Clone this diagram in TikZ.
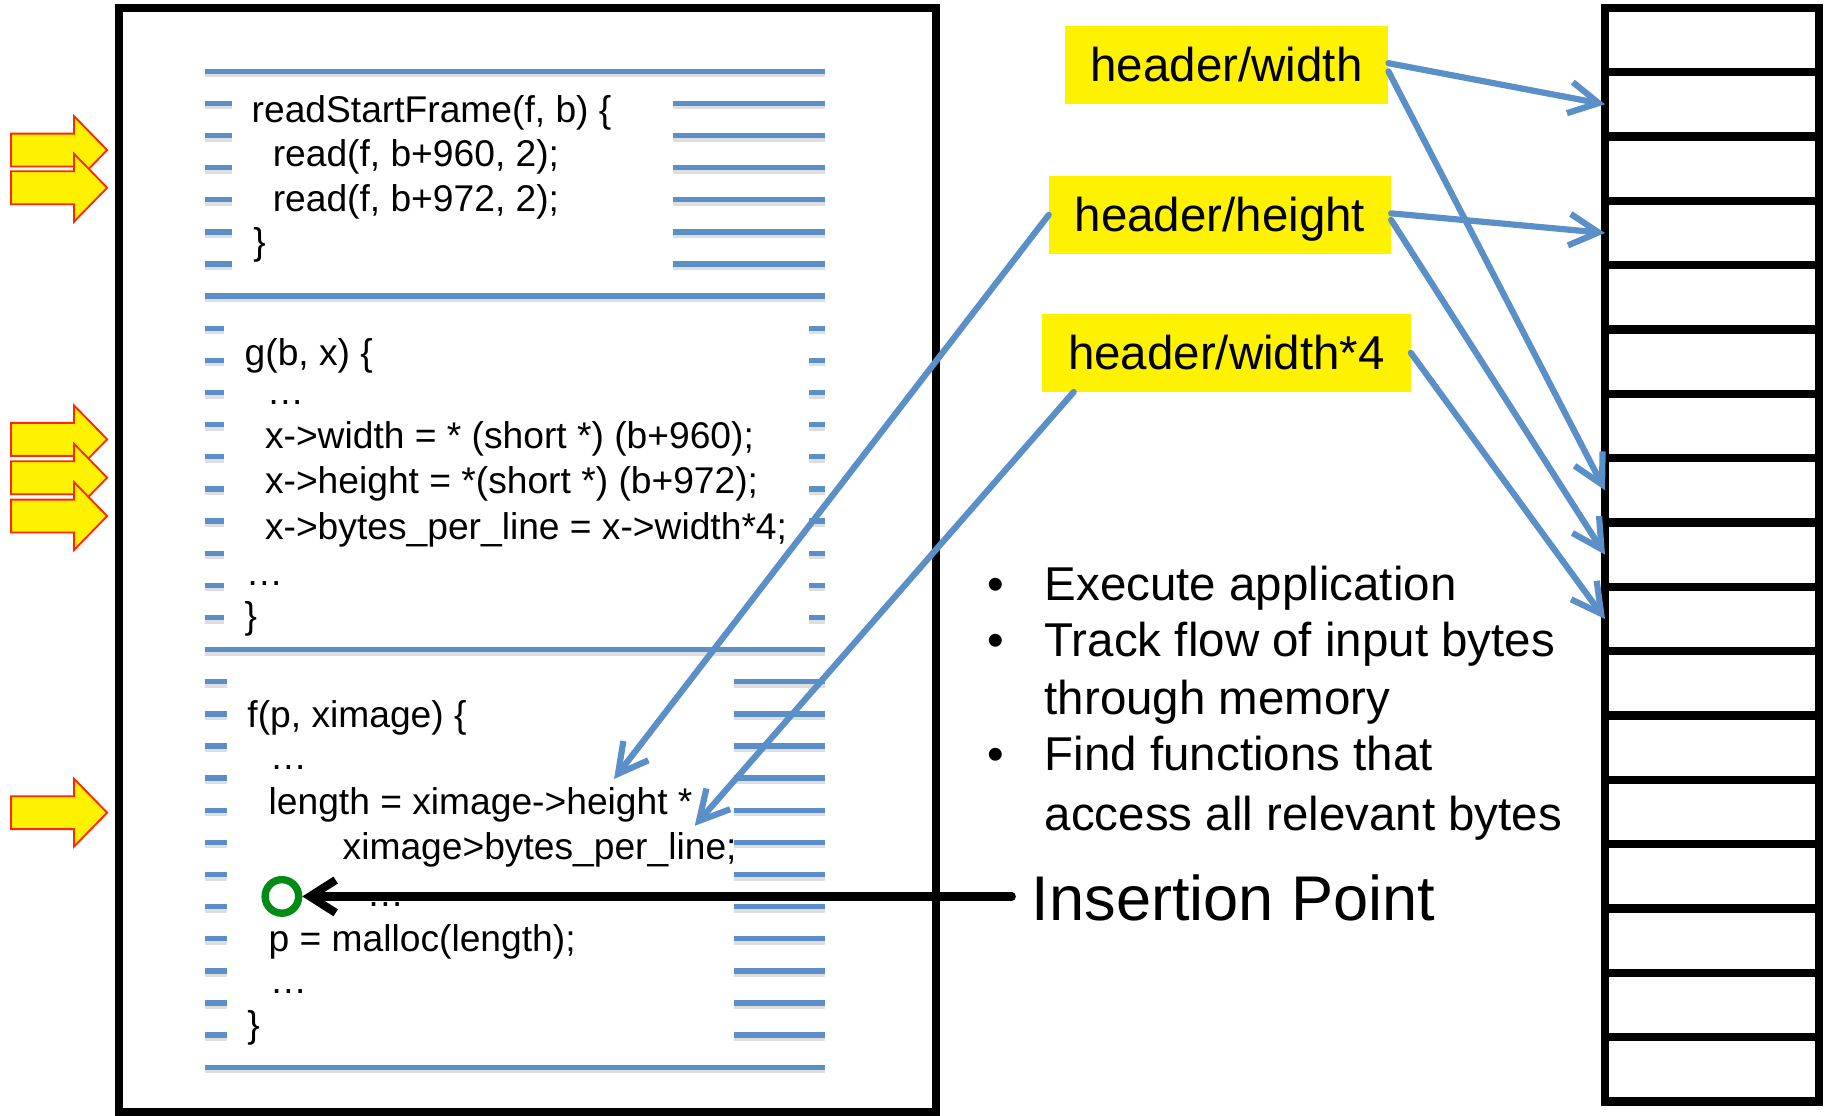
\documentclass[tikz,border=0pt]{standalone}
\usepackage{fontspec}
\setmainfont{Liberation Sans}
\usetikzlibrary{arrows.meta}

\definecolor{codeblue}{RGB}{91,143,200}
\definecolor{ptrred}{RGB}{255,40,0}
\definecolor{insgreen}{RGB}{0,140,20}

\tikzset{
  stripe/.style={draw=codeblue, line width=4.6pt},
  stripeshadow/.style={draw=black!13, line width=4.6pt},
  code/.style={anchor=base west, inner sep=0pt, font=\fontsize{31.8}{38}\selectfont},
  tagbox/.style={fill=yellow, minimum height=66.4pt, inner xsep=22pt,
    text height=29pt, text depth=1pt, font=\fontsize{40.6}{48}\selectfont},
  cell/.style={draw, line width=7pt, minimum width=182.8pt, minimum height=55pt,
    inner sep=0pt, outer sep=0pt},
  flow/.style={draw=codeblue, line width=5.3pt, line cap=round,
    -{Straight Barb[length=25pt,width=27pt]}},
  hot/.style={fill=yellow, draw=ptrred, line width=1.6pt, line join=miter},
  bullet/.style={anchor=base west, inner sep=0pt, font=\fontsize{40.6}{48}\selectfont}
}

\begin{document}
\begin{tikzpicture}[x=1pt,y=-1pt]
    \useasboundingbox (0,0) rectangle (1568,954);

    % program
    \draw[line width=7pt] (102,7) rectangle (800.5,950.5);

    \foreach \k in {0,...,31}{
      \draw[stripeshadow] (175,{63.8+27.47*\k}) -- (705,{63.8+27.47*\k});
      \draw[stripe] (175,{60.9+27.47*\k}) -- (705,{60.9+27.47*\k});
    }
    \fill[white] (198.5,66) rectangle (575.7,249);
    \fill[white] (191.6,258.5) rectangle (691.8,551);
    \fill[white] (194,560.5) rectangle (627.5,908);

    % readStartFrame
    \node[code] (rsf) at (215,104.5) {readStartFrame(f, b) \{};
    \node[code] (rd1) at (233,142) {read(f, b+960, 2);};
    \node[code] (rd2) at (233,180.5) {read(f, b+972, 2);};
    \node[code] (rsfend) at (216.5,218) {\}};

    % g
    \node[code] (gfn) at (209,312.5) {g(b, x) \{};
    \node[code] (gdots) at (228,345.4) {…};
    \node[code] (gwid) at (226.4,383.3) {x->width = * (short *) (b+960);};
    \node[code] (ghgt) at (226.4,421.8) {x->height = *(short *) (b+972);};
    \node[code] (gbpl) at (226.4,461) {x->bytes\_per\_line = x->width*4;};
    \node[code] (gdots2) at (210,500.2) {…};
    \node[code] (gend) at (209,537.5) {\}};

    % f
    \node[code] (ffn) at (211.4,621.8) {f(p, ximage) \{};
    \node[code] (fdots) at (230.6,658) {…};
    \node[code] (flen) at (229.5,696) {length = ximage->height *};
    \node[code] (fbpl) at (292.8,734.7) {ximage>bytes\_per\_line;};
    \node[code] (fdots2) at (313.5,775) {…};
    \node[code] (fmal) at (229.5,813.7) {p = malloc(length);};
    \node[code] (fdots3) at (230.6,849.5) {…};
    \node[code] (fend) at (211.4,887) {\}};

    \foreach \y in {128.3,160.5,375.6,408.4,441.2,694.8}
      \draw[hot] (9.4,\y-14.1) -- (63.3,\y-14.1) -- (63.3,\y-29) -- (91.6,\y)
        -- (63.3,\y+29) -- (63.3,\y+14.1) -- (9.4,\y+14.1) -- cycle;

    % input bytes
    \foreach \i in {1,...,17}
      \node[cell] (m\i) at (1463.6,{6.7+55*(\i-0.5)}) {};

    \node[tagbox] (hw) at (1048.6,55.4) {header/width};
    \node[tagbox] (hh) at (1043,183.7) {header/height};
    \node[tagbox] (hw4) at (1048.6,301.7) {header/width*4};

    \coordinate (hgt) at (525,666);
    \coordinate (mul) at (594,706);

    \draw[flow] ([yshift=1.4pt]hw.east) -- (m2.west);
    \draw[flow] ([yshift=-5.6pt]hw.east) -- (m8.west);
    \draw[flow] ([yshift=1.3pt]hh.east) -- (m4.west);
    \draw[flow] ([yshift=-4.3pt]hh.east) -- (m9.west);
    \draw[flow] (hw4.east) -- (m10.west);
    \draw[flow] (hh.west) -- (hgt);
    \draw[flow] ([xshift=27pt]hw4.south west) -- (mul);

    \node[bullet] (b1) at (844,513.6) {•};
    \node[bullet] (t1) at (893,513.6) {Execute application};
    \node[bullet] (b2) at (844,561.5) {•};
    \node[bullet] (t2) at (893,561.5) {Track flow of input bytes};
    \node[bullet] (t2b) at (893,610.7) {through memory};
    \node[bullet] (b3) at (844,658.9) {•};
    \node[bullet] (t3) at (893,658.9) {Find functions that};
    \node[bullet] (t3b) at (893,710.2) {access all relevant bytes};

    % insertion point
    \node[circle, draw=insgreen, line width=6.3pt, minimum size=28.7pt, inner sep=0pt] (ip) at (241,766.4) {};
    \node[anchor=base west, inner xsep=17pt, inner ysep=0pt, font=\fontsize{54}{60}\selectfont] (ins) at (865,786.6) {Insertion Point};
    \draw[line width=7pt, line cap=round, -{Straight Barb[length=22pt,width=28pt]}] (ins.west |- ip) -- (ip.east);
\end{tikzpicture}
\end{document}
